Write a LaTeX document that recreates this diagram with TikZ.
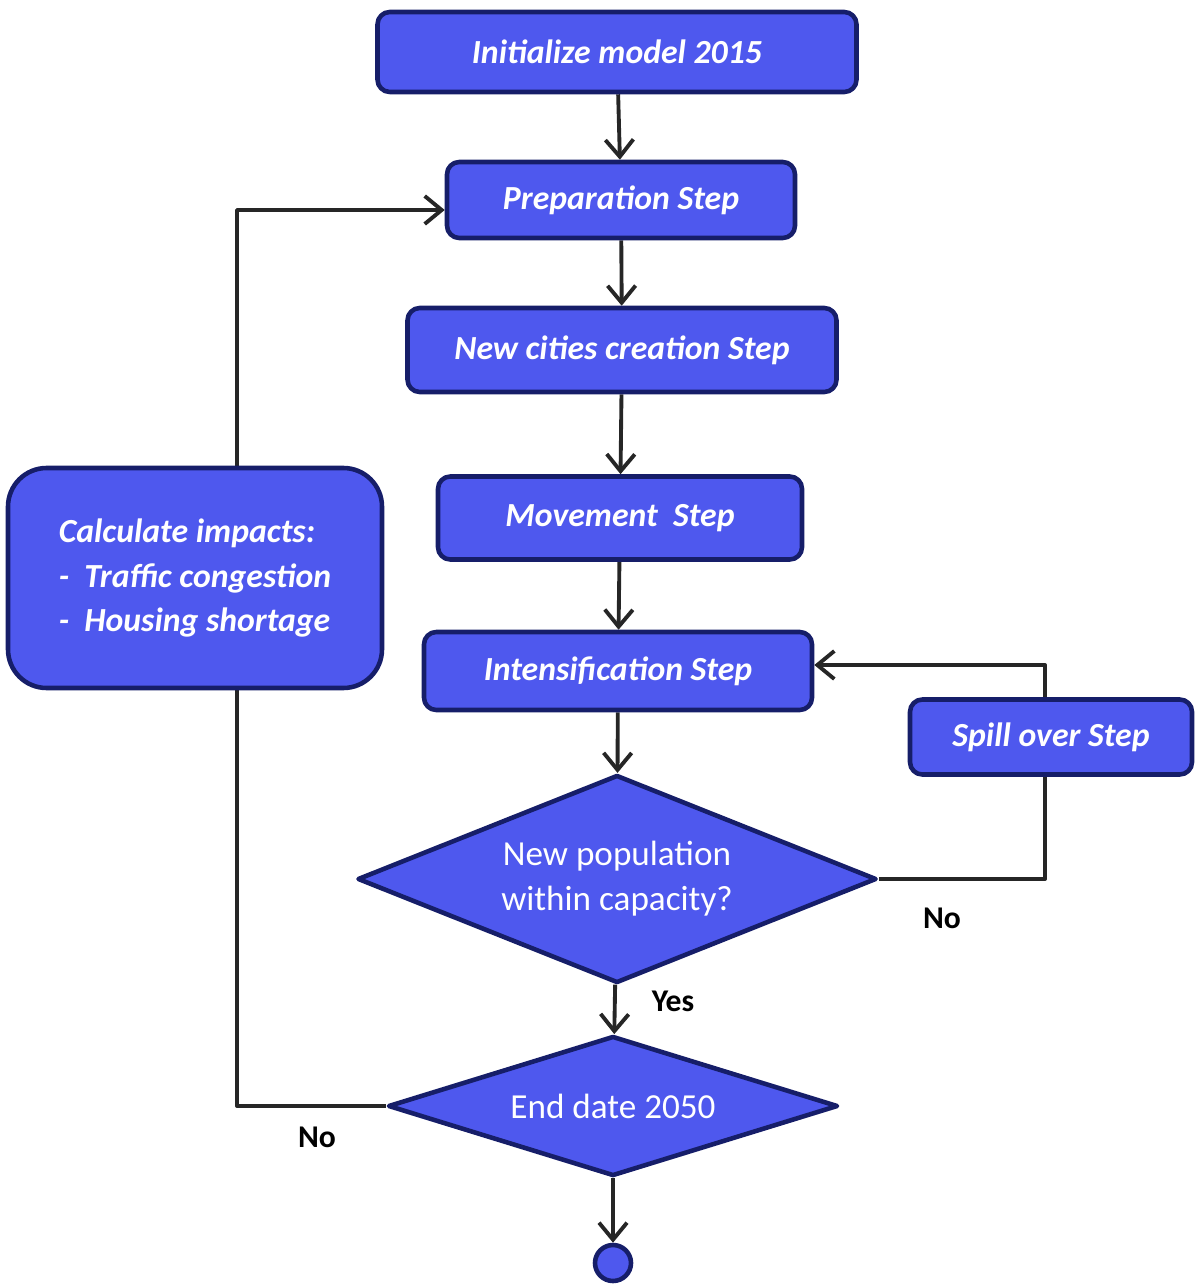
\documentclass[tikz,border=0pt]{standalone}
\usepackage{fontspec}
\setmainfont{Carlito}
\usetikzlibrary{shapes.geometric,arrows.meta,backgrounds}
\definecolor{boxblue}{RGB}{78,88,238}
\definecolor{boxedge}{RGB}{22,30,105}
\tikzset{
	stepbox/.style={draw=boxedge,fill=boxblue,line width=1.3pt,rounded corners=3.5pt,
		text=white,font=\fontsize{9.6}{11}\selectfont\bfseries\itshape},
	decision/.style={diamond,draw=boxedge,fill=boxblue,line width=1.3pt,inner sep=0pt,
		text=white,align=center,font=\fontsize{10}{12.8}\selectfont},
	answer/.style={font=\fontsize{9}{10}\selectfont\bfseries},
	link/.style={->,draw=black!85,line width=1.1pt,line join=round}
}
\begin{document}
\begin{tikzpicture}[line join=round,>={Straight Barb[length=1.7mm,width=2.8mm]}]
	\useasboundingbox (0,0) rectangle (11.94,-12.85);
	% main column
	\node[stepbox,minimum width=4.79cm,minimum height=0.80cm] (init) at (6.17,-0.52) {Initialize model 2015};
	\node[stepbox,minimum width=3.48cm,minimum height=0.76cm] (prep) at (6.21,-2.00) {Preparation Step};
	\node[stepbox,minimum width=4.29cm,minimum height=0.84cm] (cities) at (6.22,-3.50) {New cities creation Step};
	\node[stepbox,minimum width=3.64cm,minimum height=0.83cm] (move) at (6.20,-5.18) {Movement\ \ Step};
	\node[stepbox,minimum width=3.88cm,minimum height=0.78cm] (inten) at (6.18,-6.71) {Intensification Step};
	\node[decision,aspect=2.5,minimum width=5.19cm,minimum height=2.08cm] (cap) at (6.17,-8.79) {New population\\within capacity?};
	\node[decision,aspect=3.2,minimum width=4.50cm,minimum height=1.40cm] (end) at (6.13,-11.06) {End date 2050};
	\node[circle,draw=boxedge,fill=boxblue,line width=1.3pt,minimum size=0.36cm,inner sep=0pt] (stop) at (6.13,-12.63) {};
	% side boxes
	\node[stepbox,minimum width=2.82cm,minimum height=0.75cm] (spill) at (10.51,-7.37) {Spill over Step};
	\node[stepbox,rounded corners=11pt,minimum width=3.74cm,minimum height=2.20cm,align=left,
		font=\fontsize{9.6}{12.8}\selectfont\bfseries\itshape] (calc) at (1.95,-5.78)
		{Calculate impacts:\\- \ Traffic congestion\\- \ Housing shortage};
	\coordinate (loopx) at (2.37,0);
	\coordinate (spillx) at (10.45,0);
	\begin{pgfonlayer}{background}
		\draw[link] (init) -- (prep);
		\draw[link] (prep) -- (cities);
		\draw[link] (cities) -- (move);
		\draw[link] (move) -- (inten);
		\draw[link] (inten) -- (cap);
		\draw[link] (cap) -- (end);
		\draw[link] (end) -- (stop);
		\draw[link] (cap.east) -- (cap.east -| spillx) -- ([yshift=0.06cm]inten.east -| spillx) -- ([yshift=0.06cm]inten.east);
		\draw[link] (end.west) -- (end.west -| loopx) -- ([yshift=-0.1cm]prep.west -| loopx) -- ([yshift=-0.1cm]prep.west);
	\end{pgfonlayer}
	\node[answer] (yes) at (6.73,-10.01) {Yes};
	\node[answer] (no1) at (9.42,-9.18) {No};
	\node[answer] (no2) at (3.17,-11.37) {No};
\end{tikzpicture}
\end{document}
